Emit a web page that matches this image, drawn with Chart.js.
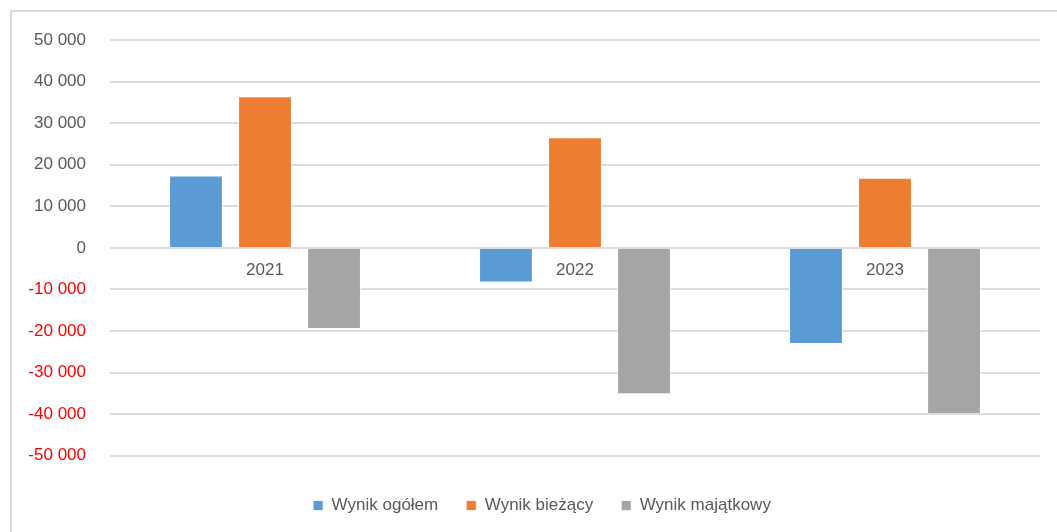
<!DOCTYPE html>
<html>
<head>
<meta charset="utf-8">
<script src="https://cdn.jsdelivr.net/npm/chart.js@4/dist/chart.umd.min.js"></script>
<style>
    html, body { margin: 0; padding: 0; background: #fff; }
    #frame {
        position: absolute; left: 10px; top: 10px; right: 0; bottom: 0;
        border-left: 2px solid #d9d9d9; border-top: 2px solid #d9d9d9;
    }
    #wrap { position: absolute; left: 0; top: 0; width: 1057px; height: 532px; }
</style>
</head>
<body>
<div id="frame"></div>
<div id="wrap"><canvas id="wynikChart"></canvas></div>
<script>
// data
const years = ["2021", "2022", "2023"];
const wynikOgolem = [17400, -8300, -23100];
const wynikBiezacy = [36500, 26600, 16900];
const wynikMajatkowy = [-19500, -35200, -40000];
const seriesNames = ["Wynik ogółem", "Wynik bieżący", "Wynik majątkowy"];

const colors = {
    blue: "#5b9bd5",
    orange: "#ed7d31",
    gray: "#a5a5a5",
    text: "#595959",
    grid: "#dcdcdc",
};

Chart.defaults.font.family = "'Liberation Sans', Arial, sans-serif";
Chart.defaults.font.size = 17;
Chart.defaults.color = colors.text;

function fmt(v) {
    const s = Math.abs(v).toString().replace(/\B(?=(\d{3})+(?!\d))/g, " ");
    return (v < 0 ? "-" : "") + s;
}

const barStyle = {
    borderColor: "rgba(255,255,255,0.8)",
    borderWidth: 1,
    categoryPercentage: 0.668,
    barPercentage: 0.78,
};

// legend in the original sits a bit right of centre
const legendShift = {
    id: "legendShift",
    afterLayout(chart) {
        if (chart.legend) {
            chart.legend.left += 17;
            chart.legend.right += 17;
        }
    },
};

new Chart(document.getElementById("wynikChart"), {
    type: "bar",
    data: {
        labels: years,
        datasets: [
            { label: seriesNames[0], data: wynikOgolem, backgroundColor: colors.blue, ...barStyle },
            { label: seriesNames[1], data: wynikBiezacy, backgroundColor: colors.orange, ...barStyle },
            { label: seriesNames[2], data: wynikMajatkowy, backgroundColor: colors.gray, ...barStyle },
        ],
    },
    plugins: [legendShift],
    options: {
        responsive: true,
        maintainAspectRatio: false,
        animation: false,
        layout: { padding: { top: 40, right: 17, left: 10, bottom: 8 } },
        plugins: {
            tooltip: { enabled: false },
            legend: {
                position: "bottom",
                // empty title only to push the legend row down
                title: { display: true, text: "", font: { size: 1 }, padding: { top: 12, bottom: 0 } },
                labels: {
                    boxWidth: 10,
                    boxHeight: 10,
                    padding: 28,
                    color: colors.text,
                },
            },
        },
        scales: {
            x: {
                position: { y: 0 },
                grid: { display: false, drawTicks: false },
                border: { display: false },
                ticks: { padding: 12, color: colors.text },
            },
            y: {
                min: -50000,
                max: 50000,
                afterFit: (scale) => { scale.width = 100; },
                grid: { color: colors.grid, lineWidth: 2, drawTicks: false },
                border: { display: false },
                ticks: {
                    stepSize: 10000,
                    padding: 24,
                    color: (ctx) => (ctx.tick && ctx.tick.value < 0 ? "#ff0000" : colors.text),
                    callback: (v) => fmt(v),
                },
            },
        },
    },
});
</script>
</body>
</html>
